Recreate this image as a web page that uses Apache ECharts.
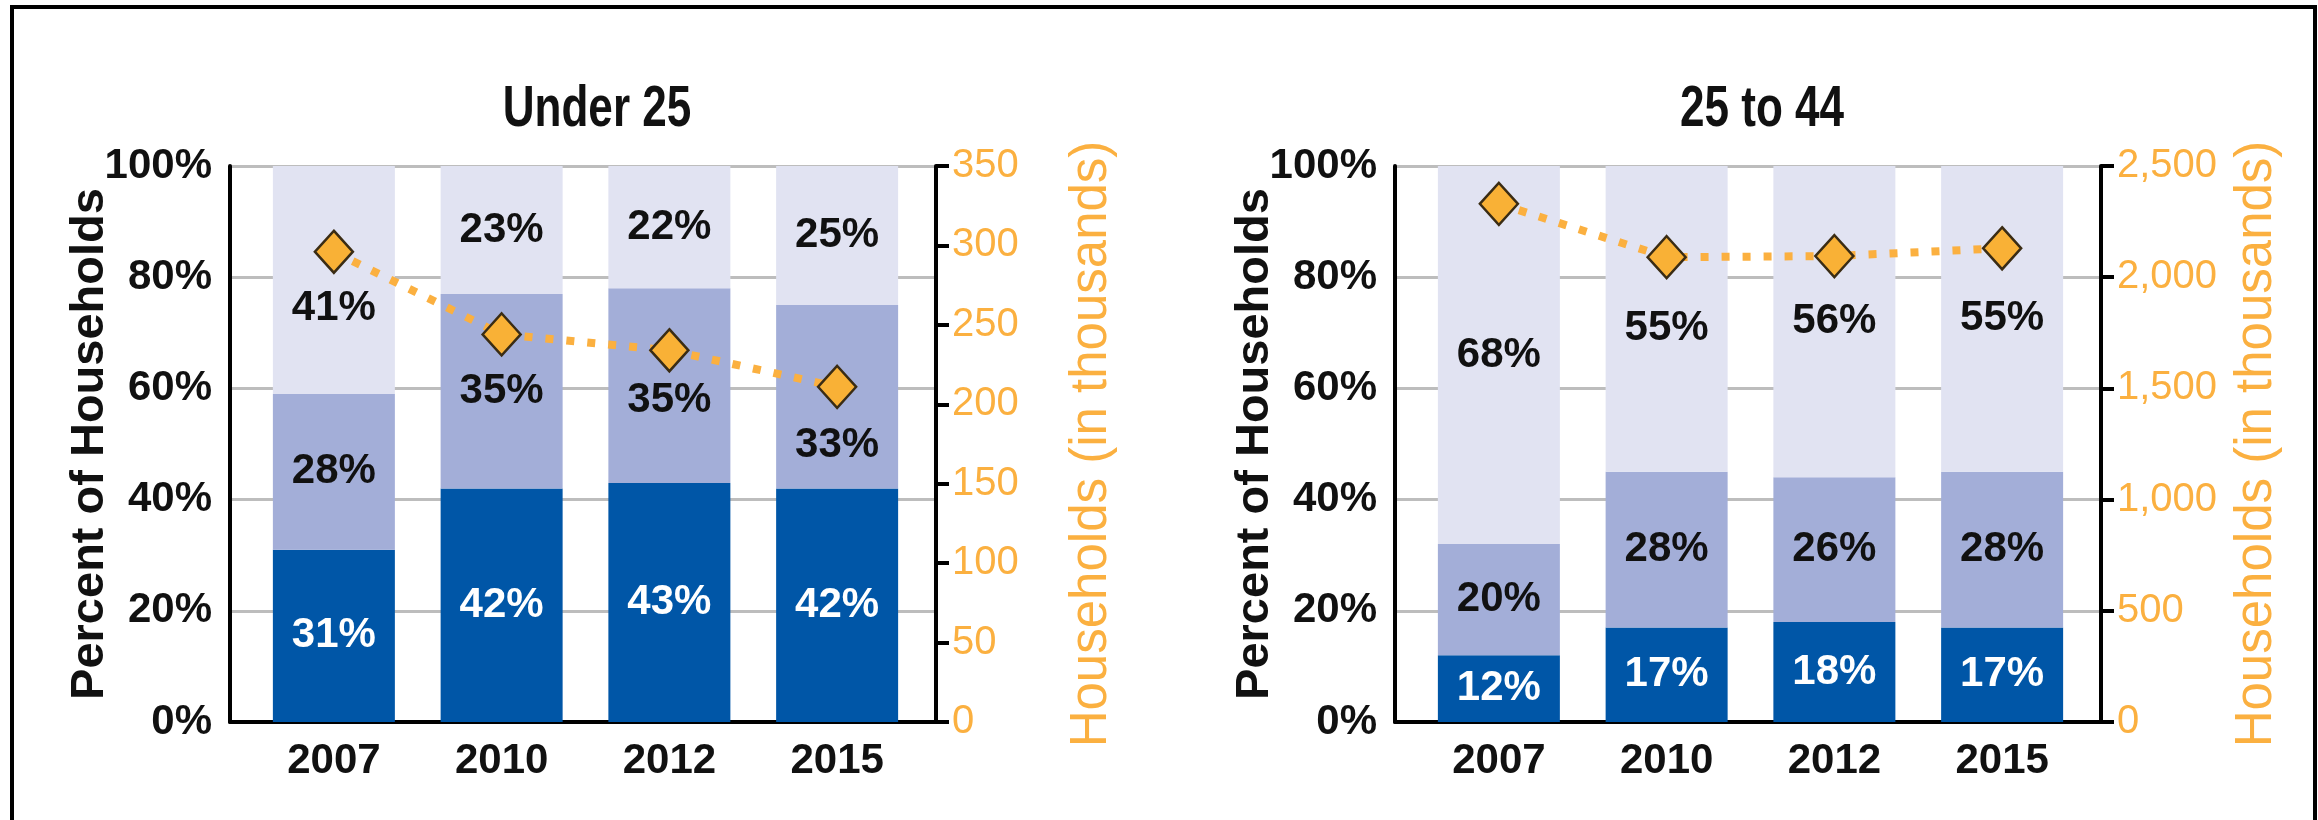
<!DOCTYPE html>
<html>
<head>
<meta charset="utf-8">
<script src="https://cdn.jsdelivr.net/npm/echarts@6/dist/echarts.min.js"></script>
<style>
  html, body { margin: 0; padding: 0; background: #fff; }
  #chart { width: 2318px; height: 820px; }
</style>
</head>
<body>
<div id="chart"></div>
<script>
// categories
const years = ["2007", "2010", "2012", "2015"];

// Under 25: share of households per segment (%), and households (thousands)
const under25Bottom = [31, 42, 43, 42];
const under25Middle = [28, 35, 35, 33];
const under25Top = [41, 23, 22, 25];
const under25Households = [296, 244, 234, 211];

// 25 to 44
const age25to44Bottom = [12, 17, 18, 17];
const age25to44Middle = [20, 28, 26, 28];
const age25to44Top = [68, 55, 56, 55];
const age25to44Households = [2330, 2090, 2095, 2130];

// tick labels
const pctTicks = [0, 20, 40, 60, 80, 100];

const FONT = "'Liberation Sans', Arial, sans-serif";
const ORANGE = "#FBB040";
const DARK = "#0056A7";
const MID = "#A3AED8";
const LIGHT = "#E1E3F2";

const chart = echarts.init(document.getElementById("chart"));

const option = {
  animation: false,
  backgroundColor: "#fff",
  grid: [],
  xAxis: [],
  yAxis: [],
  series: [],
  graphic: [
    {
      type: "rect",
      shape: { x: 12, y: 7, width: 2303, height: 840 },
      style: { fill: "none", stroke: "#000", lineWidth: 4 },
    },
  ],
};

// nudges for labels that sit under a diamond
function withShift(values, shifts) {
  return values.map((v, i) =>
    shifts[i] ? { value: v, label: { offset: [0, shifts[i]] } } : v
  );
}

function addPanel(dx, title, bottom, middle, top, households, hhMax, hhStep, shifts) {
  const g = option.grid.length;
  const xi = option.xAxis.length;
  const yi = option.yAxis.length;

  // axis frame grid and data grid
  option.grid.push({ left: 230 + dx, top: 166, width: 706, height: 556 });
  option.grid.push({ left: 250 + dx, top: 166, width: 671, height: 556 });

  option.xAxis.push({
    type: "value",
    gridIndex: g,
    min: 0,
    max: 1,
    axisLine: { show: true, lineStyle: { color: "#000", width: 4 } },
    axisTick: { show: false },
    axisLabel: { show: false },
    splitLine: { show: false },
  });
  option.xAxis.push({
    type: "category",
    gridIndex: g + 1,
    data: years,
    axisLine: { show: false },
    axisTick: { show: false },
    axisLabel: {
      margin: 18,
      color: "#111",
      fontSize: 42,
      fontWeight: "bold",
      fontFamily: FONT,
    },
  });

  option.yAxis.push({
    type: "value",
    gridIndex: g,
    min: pctTicks[0],
    max: pctTicks[pctTicks.length - 1],
    interval: 20,
    name: "Percent of Households",
    nameLocation: "middle",
    nameRotate: 90,
    nameGap: 116,
    nameMoveOverlap: false,
    nameTextStyle: { color: "#111", fontSize: 47, fontWeight: "bold", fontFamily: FONT },
    axisLine: { show: true, lineStyle: { color: "#000", width: 4 } },
    axisTick: { show: false },
    axisLabel: {
      formatter: "{value}%",
      margin: 18,
      color: "#111",
      fontSize: 42,
      fontWeight: "bold",
      fontFamily: FONT,
    },
    splitLine: { show: true, lineStyle: { color: "#BDBDBD", width: 3 } },
  });
  option.yAxis.push({
    type: "value",
    gridIndex: g,
    position: "right",
    min: 0,
    max: hhMax,
    interval: hhStep,
    name: "Households (in thousands)",
    nameLocation: "middle",
    nameRotate: 90,
    nameGap: 130,
    nameMoveOverlap: false,
    nameTextStyle: { color: ORANGE, fontSize: 51, fontFamily: FONT },
    axisLine: { show: true, lineStyle: { color: "#000", width: 4 } },
    axisTick: { show: true, inside: false, length: 13, lineStyle: { color: "#000", width: 4 } },
    axisLabel: {
      margin: 16,
      color: ORANGE,
      fontSize: 40,
      fontFamily: FONT,
      formatter: (v) => v.toLocaleString("en-US"),
    },
    splitLine: { show: false },
  });
  option.yAxis.push({ type: "value", gridIndex: g + 1, min: 0, max: 100, show: false });
  option.yAxis.push({ type: "value", gridIndex: g + 1, min: 0, max: hhMax, show: false });

  const barLabel = (color) => ({
    show: true,
    position: "inside",
    formatter: "{c}%",
    color: color,
    fontSize: 42,
    fontWeight: "bold",
    fontFamily: FONT,
  });

  const stackName = "s" + g;
  option.series.push(
    {
      type: "bar",
      xAxisIndex: xi + 1,
      yAxisIndex: yi + 2,
      stack: stackName,
      barWidth: 122,
      data: withShift(bottom, shifts.bottom || {}),
      itemStyle: { color: DARK },
      label: barLabel("#fff"),
    },
    {
      type: "bar",
      xAxisIndex: xi + 1,
      yAxisIndex: yi + 2,
      stack: stackName,
      barWidth: 122,
      data: withShift(middle, shifts.middle || {}),
      itemStyle: { color: MID },
      label: barLabel("#111"),
    },
    {
      type: "bar",
      xAxisIndex: xi + 1,
      yAxisIndex: yi + 2,
      stack: stackName,
      barWidth: 122,
      data: withShift(top, shifts.top || {}),
      itemStyle: { color: LIGHT },
      label: barLabel("#111"),
    },
    {
      type: "line",
      xAxisIndex: xi + 1,
      yAxisIndex: yi + 3,
      data: households,
      z: 5,
      symbol: "diamond",
      symbolSize: [38, 42],
      itemStyle: { color: "#F9B136", borderColor: "#3A2C14", borderWidth: 2.5 },
      lineStyle: { color: ORANGE, width: 8, type: [8, 13] },
    }
  );

  // condensed bold panel title
  option.graphic.push({
    type: "text",
    x: 597 + dx,
    y: 110,
    scaleX: 0.76,
    style: {
      text: title,
      align: "center",
      verticalAlign: "middle",
      fill: "#111",
      font: "bold 58px 'Liberation Sans', Arial, sans-serif",
    },
  });
}

addPanel(0, "Under 25", under25Bottom, under25Middle, under25Top, under25Households, 350, 50, {
  top: { 0: 28 },
  middle: { 2: 15, 3: 49 },
});
addPanel(1165, "25 to 44", age25to44Bottom, age25to44Middle, age25to44Top, age25to44Households, 2500, 500, {
  top: { 1: 10 },
});

chart.setOption(option);
</script>
</body>
</html>
